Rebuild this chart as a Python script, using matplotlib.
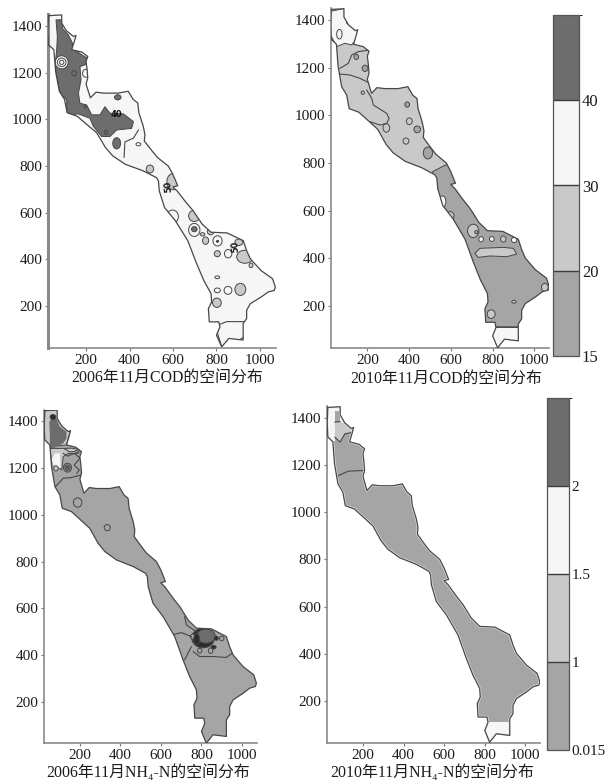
import matplotlib
matplotlib.use("Agg")
import matplotlib.pyplot as plt
from matplotlib.colors import BoundaryNorm, ListedColormap
from matplotlib.cm import ScalarMappable
from matplotlib.patches import Ellipse, Polygon

plt.rcParams['font.family'] = ['Liberation Serif', 'Noto Sans CJK SC']

W, H = 608, 781

# shoreline of the lake, same for all four maps
OUTLINE_X = [27, 88, 88, 110, 142, 154, 146, 134, 180, 208, 200, 205, 208, 200, 213, 220, 246, 282, 348, 394,
             417, 438, 443, 463, 471, 468, 504, 529, 578, 599, 622, 599, 619, 660, 693, 734, 775, 849, 923, 939,
             956, 1005, 1058, 1071, 1066, 1038, 1005, 956, 939, 939, 923, 923, 857, 824, 800, 816, 811, 767, 763, 778,
             775, 742, 709, 668, 611, 561, 537, 533, 524, 463, 381, 323, 290, 249, 159, 113, 101, 77, 60, 52,
             27, 24]
OUTLINE_Y = [1444, 1447, 1412, 1379, 1355, 1359, 1333, 1298, 1288, 1269, 1248, 1212, 1177, 1151, 1113, 1092, 1116, 1112, 1112, 1120,
             1085, 1070, 1028, 971, 935, 907, 864, 836, 800, 765, 715, 710, 693, 644, 608, 551, 516, 513, 480, 437,
             402, 352, 317, 281, 267, 260, 238, 210, 182, 146, 125, 54, 61, 25, 75, 110, 132, 132, 189, 217,
             253, 309, 381, 480, 565, 622, 693, 736, 750, 779, 807, 843, 878, 942, 1013, 1028, 1085, 1120, 1205, 1298,
             1319, 1376]

# level index: 0 mid grey, 1 light grey, 2 white, 3 dark grey, 4 near black
LEVEL_COLORS = ['#a5a5a5', '#c9c9c9', '#f6f6f6', '#6d6d6d', '#2c2c2c']
LINE_COLOR = '#474747'

# 2006 COD
P1_DARK_X = [62, 91, 91, 119, 134, 149, 180, 215, 195, 172, 177, 165, 172, 203, 226, 264, 287, 310, 372, 418,
             410, 341, 310, 272, 234, 218, 165, 111, 111, 80, 57, 65, 68]
P1_DARK_Y = [1426, 1426, 1390, 1361, 1333, 1297, 1276, 1257, 1233, 1226, 1169, 1111, 1069, 1061, 1019, 1019, 1054, 1026, 1023, 990,
             961, 954, 926, 926, 969, 1004, 1023, 1019, 1083, 1111, 1226, 1297, 1354]
P1_BLOB_X = [341, 88, 88, 88, 494, 441, 602, 598, 698, 698, 698, 773, 736, 750, 805, 805, 931, 903, 804, 854, 959, 804, 804, 853, 910, 802, 346, 199, 145, 292, 197]
P1_BLOB_Y = [897, 1244, 1244, 1244, 787, 893, 733, 583, 586, 526, 529, 519, 507, 480, 479, 477, 411, 473, 424, 424, 374, 323, 267, 267, 271, 214, 1094, 1197, 1197, 944, 1054]
P1_BLOB_RX = [18, 30, 20, 10, 17, 11, 30, 27, 26, 26, 13, 15, 11, 14, 21, 5, 38, 18, 14, 17, 9, 11, 14, 18, 25, 20, 15, 15, 11, 8, 6]
P1_BLOB_RY = [24, 28, 18, 9, 17, 7, 35, 28, 24, 28, 11, 14, 7, 16, 22, 4, 28, 14, 13, 18, 10, 6, 10, 17, 26, 20, 11, 17, 11, 8, 6]
P1_BLOB_LEVEL = [3, 2, 2, 2, 1, 2, 1, 2, 1, 2, 3, 1, 1, 1, 2, 4, 1, 1, 1, 2, 1, 2, 2, 2, 1, 1, 3, 2, 3, 3, 3]
P1_LINE_A_X = [808, 847, 931, 942, 931, 877, 824, 805, 808]
P1_LINE_A_Y = [119, 133, 133, 104, 69, 40, 26, 83, 119]
P1_LINE_B_X = [441, 418, 379, 375]
P1_LINE_B_Y = [954, 919, 903, 837]
P1_LABELS = ['40', '50', '50']
P1_LABEL_X = [338, 579, 885]
P1_LABEL_Y = [1021, 711, 457]
P1_LABEL_ROT = [0, 95, 95]

# 2010 COD
P2_MID_X = [513, 576, 1100, 1100, 500]
P2_MID_Y = [764, 792, 792, 113, 113]
P2_WHITE_BOTTOM_X = [500, 1100, 1100, 500]
P2_WHITE_BOTTOM_Y = [113, 113, 0, 0]
P2_WHITE_TOP_X = [20, 93, 101, 157, 157, 125, 93, 53, 20]
P2_WHITE_TOP_Y = [1435, 1449, 1386, 1358, 1330, 1295, 1302, 1288, 1344]
P2_BAND_X = [715, 739, 851, 899, 915, 867, 787, 731]
P2_BAND_Y = [421, 442, 446, 442, 418, 407, 410, 404]
P2_BLOB_X = [707, 722, 560, 596, 745, 796, 851, 903, 902, 793, 1050, 147, 189, 391, 439, 490, 401, 291, 385, 178, 66]
P2_BLOB_Y = [515, 510, 638, 579, 480, 481, 481, 477, 218, 166, 278, 1245, 1197, 1045, 941, 842, 975, 947, 892, 1095, 1340]
P2_BLOB_RX = [27, 8, 16, 19, 11, 11, 13, 13, 10, 19, 16, 11, 14, 11, 16, 22, 14, 16, 14, 8, 13]
P2_BLOB_RY = [28, 7, 24, 17, 11, 10, 13, 11, 6, 18, 17, 11, 13, 11, 14, 25, 14, 18, 13, 7, 20]
P2_BLOB_LEVEL = [1, 0, 2, 1, 2, 2, 1, 2, 1, 1, 1, 0, 0, 0, 0, 0, 1, 1, 1, 1, 2]
P2_LINE_A_X = [69, 109, 125, 157, 213]
P2_LINE_A_Y = [1197, 1218, 1253, 1267, 1274]
P2_LINE_B_X = [69, 117, 165, 213]
P2_LINE_B_Y = [1173, 1169, 1155, 1134]
P2_LINE_C_X = [197, 221, 229, 293, 304, 293, 261, 213]
P2_LINE_C_Y = [1106, 1071, 1043, 1008, 987, 966, 959, 973]

# 2006 NH4-N
P3_LIGHT_TOP_X = [24, 88, 154, 134, 52, 24]
P3_LIGHT_TOP_Y = [1447, 1447, 1359, 1298, 1291, 1319]
P3_DARK_X = [49, 77, 101, 134, 134, 118, 68, 52, 52]
P3_DARK_Y = [1397, 1426, 1376, 1354, 1326, 1305, 1283, 1283, 1340]
P3_LIGHT_X = [52, 126, 159, 208, 175, 142, 118, 110, 60]
P3_LIGHT_Y = [1283, 1283, 1284, 1277, 1262, 1262, 1248, 1191, 1227]
P3_WHITE_X = [60, 77, 101, 105, 70]
P3_WHITE_Y = [1234, 1262, 1262, 1198, 1212]
P3_BLOB_X = [67, 82, 139, 139, 139, 189, 335, 808, 822, 873, 791, 845, 757, 900, 860, 776]
P3_BLOB_Y = [1417, 1198, 1201, 1201, 1201, 1052, 945, 474, 482, 473, 420, 420, 480, 472, 435, 470]
P3_BLOB_RX = [14, 11, 20, 13, 7, 21, 15, 56, 46, 10, 11, 11, 11, 11, 12, 14]
P3_BLOB_RY = [11, 11, 19, 12, 6, 20, 13, 42, 30, 9, 10, 12, 11, 10, 8, 24]
P3_BLOB_LEVEL = [4, 1, 0, 0, 3, 0, 0, 4, 3, 4, 0, 0, 0, 0, 4, 4]
P3_LINE_A_X = [77, 118, 155, 208]
P3_LINE_A_Y = [1117, 1156, 1158, 1170]
P3_LINE_B_X = [175, 200, 172, 197, 185]
P3_LINE_B_Y = [1262, 1241, 1212, 1191, 1177]
P3_LINE_C_X = [126, 150, 172, 205]
P3_LINE_C_Y = [1280, 1268, 1270, 1282]
P3_LINE_D_X = [118, 140, 160, 195]
P3_LINE_D_Y = [1262, 1250, 1258, 1264]
P3_LINE_E_X = [717, 726, 775]
P3_LINE_E_Y = [565, 530, 501]
P3_LINE_F_X = [652, 701, 750]
P3_LINE_F_Y = [487, 497, 480]
P3_LINE_G_X = [750, 717]
P3_LINE_G_Y = [437, 381]
P3_LINE_H_X = [759, 791, 857, 923, 951]
P3_LINE_H_Y = [416, 395, 395, 391, 409]

# 2010 NH4-N
P4_WHITE_LEFT_X = [0, 62, 62, 87, 87, 0]
P4_WHITE_LEFT_Y = [1300, 1300, 1428, 1428, 1500, 1500]
P4_WHITE_RIGHT_X = [87, 200, 200, 144, 87]
P4_WHITE_RIGHT_Y = [1500, 1500, 1360, 1360, 1382]
P4_WHITE_BOTTOM_X = [500, 1100, 1100, 500]
P4_WHITE_BOTTOM_Y = [113, 113, 0, 0]
P4_LIGHT_X = [62, 87, 144, 152, 111, 87, 62]
P4_LIGHT_Y = [1382, 1382, 1360, 1339, 1332, 1297, 1318]
P4_LINE_A_X = [70, 128, 210]
P4_LINE_A_Y = [1152, 1174, 1177]
P4_LINE_B_X = [62, 87, 111, 152]
P4_LINE_B_Y = [1318, 1297, 1332, 1339]
P4_LINE_C_X = [62, 87]
P4_LINE_C_Y = [1382, 1384]

X_TICKS = [200, 400, 600, 800, 1000]
Y_TICKS = [200, 400, 600, 800, 1000, 1200, 1400]

CBAR_COD_BOUNDS = [15, 20, 30, 40, 50]
CBAR_COD_TICKS = [15, 20, 30, 40]
CBAR_COD_LABELS = ['15', '20', '30', '40']
CBAR_NH4_BOUNDS = [0.015, 1, 1.5, 2, 2.5]
CBAR_NH4_TICKS = [0.015, 1, 1.5, 2]
CBAR_NH4_LABELS = ['0.015', '1', '1.5', '2']
CBAR_LEVELS = [0, 1, 2, 3]

TITLES = ['2006年11月COD的空间分布', '2010年11月COD的空间分布',
          '2006年11月NH₄-N的空间分布', '2010年11月NH₄-N的空间分布']


def px_axes(fig, left, right, top, bottom):
    return fig.add_axes([left / W, 1 - bottom / H, (right - left) / W, (bottom - top) / H])


def make_map(fig, box, xlim, ylim, base_level, spine_width=1.2):
    ax = px_axes(fig, *box)
    ax.set_xlim(*xlim)
    ax.set_ylim(*ylim)
    ax.spines['top'].set_visible(False)
    ax.spines['right'].set_visible(False)
    ax.spines['left'].set_color('#8a8a8a')
    ax.spines['left'].set_linewidth(spine_width)
    ax.spines['bottom'].set_color('#8a8a8a')
    ax.spines['bottom'].set_linewidth(1.2)
    ax.set_xticks(X_TICKS)
    ax.set_yticks(Y_TICKS)
    ax.tick_params(labelsize=11, length=2.5, width=0.8, color='#777777', pad=1.5, labelcolor='#1c1c1c')
    lake = Polygon(list(zip(OUTLINE_X, OUTLINE_Y)), closed=True, fc=LEVEL_COLORS[base_level], ec='none', zorder=1)
    ax.add_patch(lake)
    return ax, lake


def add_zone(ax, lake, xs, ys, level, edge=True):
    ec = LINE_COLOR if edge else 'none'
    patch = Polygon(list(zip(xs, ys)), closed=True, fc=LEVEL_COLORS[level], ec=ec, lw=0.7, zorder=2, joinstyle='round')
    ax.add_patch(patch)
    patch.set_clip_path(lake)


def add_blobs(ax, lake, xs, ys, rxs, rys, levels):
    for x, y, rx, ry, level in zip(xs, ys, rxs, rys, levels):
        blob = Ellipse((x, y), 2 * rx, 2 * ry, fc=LEVEL_COLORS[level], ec=LINE_COLOR, lw=0.7, zorder=3)
        ax.add_patch(blob)
        blob.set_clip_path(lake)


def add_line(ax, lake, xs, ys):
    line, = ax.plot(xs, ys, color=LINE_COLOR, lw=0.8, zorder=4, solid_joinstyle='round')
    line.set_clip_path(lake)


def add_shore(ax, lake=None):
    closed_x = OUTLINE_X + OUTLINE_X[:1]
    closed_y = OUTLINE_Y + OUTLINE_Y[:1]
    if lake is not None:
        # thin white rim just inside the shore
        rim, = ax.plot(closed_x, closed_y, color='#ececec', lw=1.7, zorder=5)
        rim.set_clip_path(lake)
    ax.plot(closed_x, closed_y, color=LINE_COLOR, lw=0.9, zorder=6, solid_joinstyle='round')


def add_cbar(fig, box, bounds, ticks, labels, size):
    cax = px_axes(fig, *box)
    cmap = ListedColormap([LEVEL_COLORS[i] for i in CBAR_LEVELS])
    norm = BoundaryNorm(bounds, cmap.N)
    cb = fig.colorbar(ScalarMappable(norm=norm, cmap=cmap), cax=cax, spacing='uniform', ticks=ticks, drawedges=True)
    cb.ax.set_yticklabels(labels)
    cb.ax.tick_params(labelsize=size, length=0, pad=2, labelcolor='#1c1c1c')
    cb.outline.set_edgecolor('#555555')
    cb.outline.set_linewidth(0.9)
    cb.dividers.set_color('#3c3c3c')
    cb.dividers.set_linewidth(1.0)


fig = plt.figure(figsize=(W / 100, H / 100), dpi=100)

# 2006 COD
ax1, lake1 = make_map(fig, (48, 276, 14, 348), (25, 1074), (20, 1451), 2, spine_width=2.2)
add_zone(ax1, lake1, P1_DARK_X, P1_DARK_Y, 3)
add_blobs(ax1, lake1, P1_BLOB_X, P1_BLOB_Y, P1_BLOB_RX, P1_BLOB_RY, P1_BLOB_LEVEL)
add_line(ax1, lake1, P1_LINE_A_X, P1_LINE_A_Y)
add_line(ax1, lake1, P1_LINE_B_X, P1_LINE_B_Y)
add_shore(ax1)
for label, x, y, rot in zip(P1_LABELS, P1_LABEL_X, P1_LABEL_Y, P1_LABEL_ROT):
    ax1.text(x, y, label, fontsize=6, family='DejaVu Sans', fontweight='bold', rotation=rot,
             ha='center', va='center', color='#111111', zorder=7)

# 2010 COD
ax2, lake2 = make_map(fig, (331, 549, 8, 348), (26, 1070), (24, 1450), 1)
add_zone(ax2, lake2, P2_MID_X, P2_MID_Y, 0)
add_zone(ax2, lake2, P2_WHITE_BOTTOM_X, P2_WHITE_BOTTOM_Y, 2)
add_zone(ax2, lake2, P2_WHITE_TOP_X, P2_WHITE_TOP_Y, 2)
add_zone(ax2, lake2, P2_BAND_X, P2_BAND_Y, 1)
add_blobs(ax2, lake2, P2_BLOB_X, P2_BLOB_Y, P2_BLOB_RX, P2_BLOB_RY, P2_BLOB_LEVEL)
add_line(ax2, lake2, P2_LINE_A_X, P2_LINE_A_Y)
add_line(ax2, lake2, P2_LINE_B_X, P2_LINE_B_Y)
add_line(ax2, lake2, P2_LINE_C_X, P2_LINE_C_Y)
add_shore(ax2)

# 2006 NH4-N
ax3, lake3 = make_map(fig, (44, 257, 410, 743), (23, 1074), (26, 1447), 0)
add_zone(ax3, lake3, P3_LIGHT_TOP_X, P3_LIGHT_TOP_Y, 1)
add_zone(ax3, lake3, P3_DARK_X, P3_DARK_Y, 3, edge=False)
add_zone(ax3, lake3, P3_LIGHT_X, P3_LIGHT_Y, 1)
add_zone(ax3, lake3, P3_WHITE_X, P3_WHITE_Y, 2, edge=False)
add_blobs(ax3, lake3, P3_BLOB_X, P3_BLOB_Y, P3_BLOB_RX, P3_BLOB_RY, P3_BLOB_LEVEL)
for line_x, line_y in [(P3_LINE_A_X, P3_LINE_A_Y), (P3_LINE_B_X, P3_LINE_B_Y), (P3_LINE_C_X, P3_LINE_C_Y),
                       (P3_LINE_D_X, P3_LINE_D_Y), (P3_LINE_E_X, P3_LINE_E_Y), (P3_LINE_F_X, P3_LINE_F_Y),
                       (P3_LINE_G_X, P3_LINE_G_Y), (P3_LINE_H_X, P3_LINE_H_Y)]:
    add_line(ax3, lake3, line_x, line_y)
add_shore(ax3)

# 2010 NH4-N
ax4, lake4 = make_map(fig, (327, 540, 406, 743), (23, 1072), (22, 1450), 0)
add_zone(ax4, lake4, P4_WHITE_LEFT_X, P4_WHITE_LEFT_Y, 2, edge=False)
add_zone(ax4, lake4, P4_WHITE_RIGHT_X, P4_WHITE_RIGHT_Y, 2, edge=False)
add_zone(ax4, lake4, P4_WHITE_BOTTOM_X, P4_WHITE_BOTTOM_Y, 2, edge=False)
add_zone(ax4, lake4, P4_LIGHT_X, P4_LIGHT_Y, 1, edge=False)
add_line(ax4, lake4, P4_LINE_A_X, P4_LINE_A_Y)
add_line(ax4, lake4, P4_LINE_B_X, P4_LINE_B_Y)
add_line(ax4, lake4, P4_LINE_C_X, P4_LINE_C_Y)
add_shore(ax4, lake4)

add_cbar(fig, (553, 579, 15, 356), CBAR_COD_BOUNDS, CBAR_COD_TICKS, CBAR_COD_LABELS, 12)
add_cbar(fig, (547, 569, 398, 750), CBAR_NH4_BOUNDS, CBAR_NH4_TICKS, CBAR_NH4_LABELS, 11)

title_pos = [(167, 378), (446, 379), (148, 773), (432, 773)]
for title, (tx, ty) in zip(TITLES, title_pos):
    fig.text(tx / W, 1 - ty / H, title, fontsize=11.4, ha='center', va='center', color='#1c1c1c')

fig.savefig('out.png', dpi=100)
